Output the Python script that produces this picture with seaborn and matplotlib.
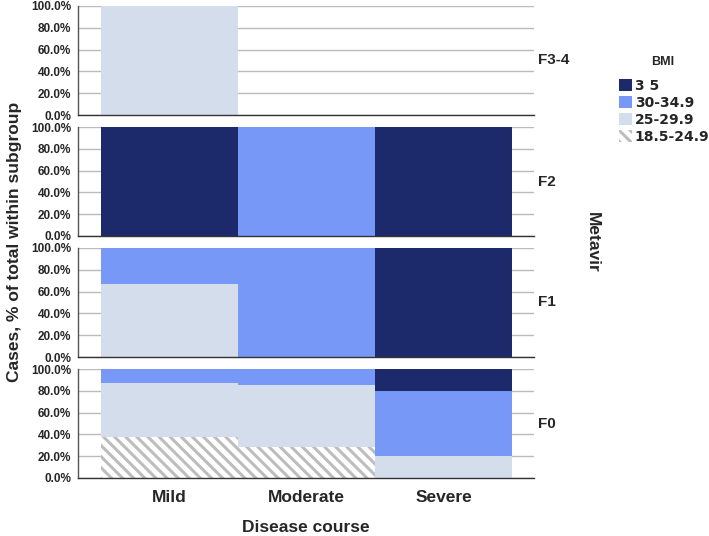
import numpy as np
import pandas as pd
import seaborn as sns
import matplotlib.pyplot as plt
from matplotlib.patches import Patch
from matplotlib.ticker import PercentFormatter

courses = ['Mild', 'Moderate', 'Severe']
metavir = ['F3-4', 'F2', 'F1', 'F0']
bmi_groups = ['18.5-24.9', '25-29.9', '30-34.9', '3 5']   # bottom -> top

# % of cases per BMI group (rows, bottom->top) for Mild / Moderate / Severe
f34 = [[0, 0, 0], [100, 0, 0], [0, 0, 0], [0, 0, 0]]
f2 = [[0, 0, 0], [0, 0, 0], [0, 100, 0], [100, 0, 100]]
f1 = [[0, 0, 0], [66.7, 0, 0], [33.3, 100, 0], [0, 0, 100]]
f0 = [[37.5, 28.6, 0], [50.0, 57.1, 20.0], [12.5, 14.3, 60.0], [0, 0, 20.0]]
panels = [f34, f2, f1, f0]

colors = {'3 5': '#1c2a6b', '30-34.9': '#7898f8',
          '25-29.9': '#d3ddec', '18.5-24.9': 'white'}
hatch_gray = '#bdbdbd'

sns.set_style('white')
plt.rcParams['font.family'] = ['Liberation Sans', 'DejaVu Sans']
plt.rcParams['font.weight'] = 'bold'
plt.rcParams['hatch.linewidth'] = 2.2
plt.rcParams['hatch.color'] = hatch_gray

fig = plt.figure(figsize=(7.09, 5.36), dpi=100)

W, H = 709, 536
left, right = 78, 534
tops = [6, 127, 248, 369]
ph = 109

for i, (name, data) in enumerate(zip(metavir, panels)):
    top = tops[i]
    ax = fig.add_axes([left / W, 1 - (top + ph) / H, (right - left) / W, ph / H])
    df = pd.DataFrame(data, index=bmi_groups, columns=courses)
    cum = df.cumsum()
    for k in range(len(bmi_groups) - 1, -1, -1):
        grp = bmi_groups[k]
        n0 = len(ax.patches)
        sns.barplot(x=courses, y=cum.loc[grp].values, order=courses,
                    color=colors[grp], saturation=1, width=1.0,
                    linewidth=0, ax=ax)
        if grp == '18.5-24.9':
            for p in ax.patches[n0:]:
                p.set_hatch('\\\\\\')
                p.set_edgecolor(hatch_gray)
                p.set_linewidth(0)
    ax.set_xlim(-0.664, 2.657)
    ax.set_ylim(0, 100)
    ax.set_yticks([0, 20, 40, 60, 80, 100])
    ax.yaxis.set_major_formatter(PercentFormatter(decimals=1))
    ax.set_axisbelow(True)
    ax.yaxis.grid(True, color='#bbbbbb', linewidth=1)
    ax.tick_params(axis='both', length=0)
    ax.tick_params(axis='y', labelsize=8.5, pad=5)
    for lab in ax.get_yticklabels():
        lab.set_fontweight('bold')
    ax.set_ylabel('')
    ax.set_xlabel('')
    for s in ['top', 'right']:
        ax.spines[s].set_visible(False)
    ax.spines['left'].set_color('#555555')
    ax.spines['left'].set_linewidth(1)
    ax.spines['bottom'].set_color('#333333')
    ax.spines['bottom'].set_linewidth(1)
    if i < 3:
        ax.set_xticklabels([])
    else:
        ax.tick_params(axis='x', labelsize=12.5, pad=9)
        for lab in ax.get_xticklabels():
            lab.set_fontweight('bold')
    fig.text(538 / W, 1 - (top + ph / 2) / H, name, fontsize=11,
             fontweight='bold', ha='left', va='center')

fig.text(15 / W, 1 - 242 / H, 'Cases, % of total within subgroup',
         rotation=90, fontsize=12.5, fontweight='bold', ha='center', va='center')
fig.text(306 / W, 1 - 527 / H, 'Disease course', fontsize=12.5,
         fontweight='bold', ha='center', va='center')
fig.text(592 / W, 1 - 242 / H, 'Metavir', rotation=270, fontsize=12.5,
         fontweight='bold', ha='center', va='center')

# legend
fig.text(663 / W, 1 - 62 / H, 'BMI', fontsize=9, fontweight='bold',
         ha='center', va='center')
handles = []
for grp in bmi_groups[::-1]:
    if grp == '18.5-24.9':
        handles.append(Patch(facecolor='white', edgecolor=hatch_gray,
                             hatch='\\\\\\', linewidth=0, label=grp))
    else:
        handles.append(Patch(facecolor=colors[grp], linewidth=0, label=grp))
leg = fig.legend(handles=handles, loc='upper left',
                 bbox_to_anchor=(612 / W, 1 - 72 / H), frameon=False,
                 handlelength=0.95, handleheight=0.95, handletextpad=0.2,
                 labelspacing=0.22, borderpad=0,
                 prop={'family': 'DejaVu Sans', 'size': 10, 'weight': 'bold'})

fig.savefig('out.png', dpi=100)
